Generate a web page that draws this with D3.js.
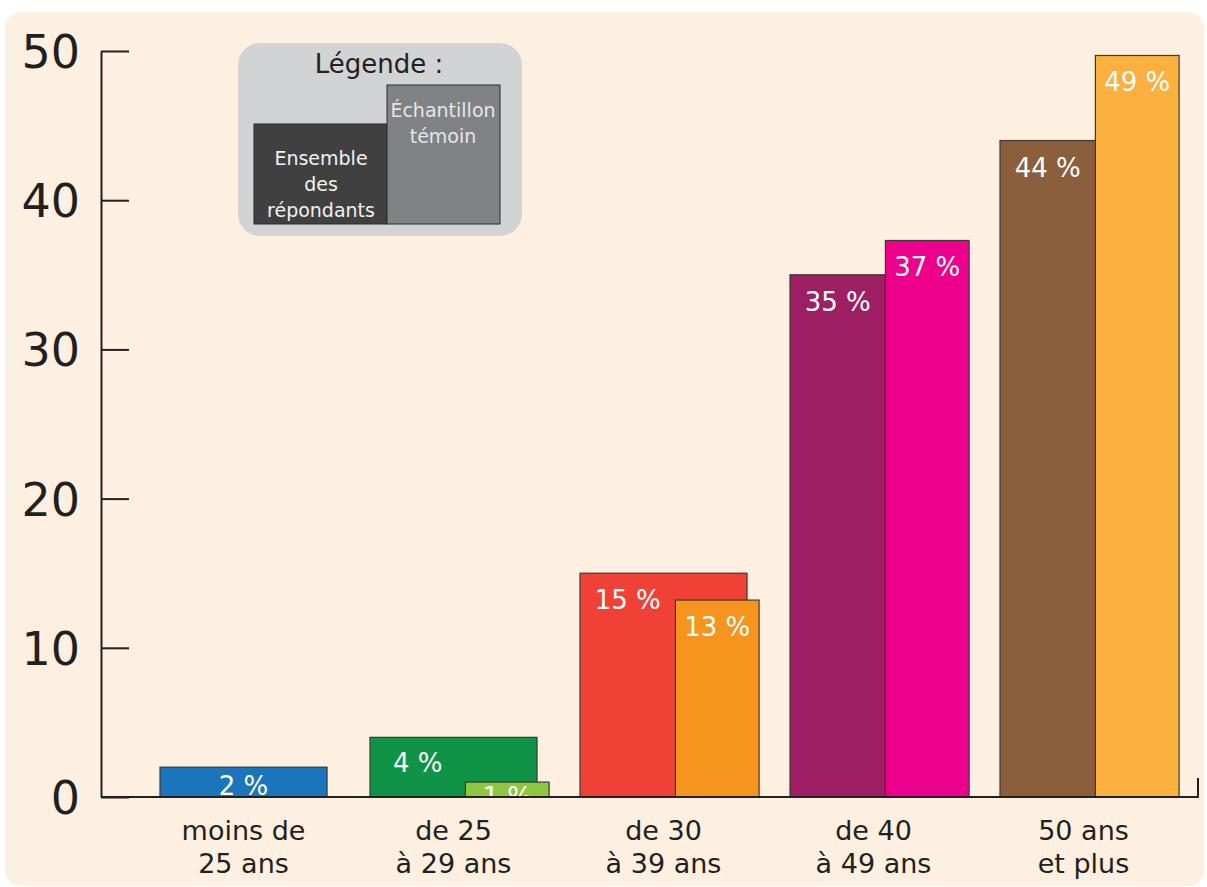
<!DOCTYPE html>
<html>
<head>
<meta charset="utf-8">
<script src="https://cdn.jsdelivr.net/npm/d3@7"></script>
<style>
  body { margin: 0; background: #fff; }
  text { font-family: "DejaVu Sans", sans-serif; }
</style>
</head>
<body>
<script>
// data
var categories = ["moins de 25 ans", "de 25 à 29 ans", "de 30 à 39 ans", "de 40 à 49 ans", "50 ans et plus"];
var categoryLines = [["moins de", "25 ans"], ["de 25", "à 29 ans"], ["de 30", "à 39 ans"], ["de 40", "à 49 ans"], ["50 ans", "et plus"]];
var ensemble = [2, 4, 15, 35, 44];
var temoin = [null, 1, 13.2, 37.3, 49.7];
var ensembleColors = ["#1b75bc", "#0e9347", "#ef4136", "#9e1f63", "#8b5e3c"];
var temoinColors = [null, "#8dc63f", "#f7941d", "#ec008c", "#fbb040"];
var yTicks = [0, 10, 20, 30, 40, 50];

var W = 1207, H = 887;

var svg = d3.select("body").append("svg")
  .attr("width", W)
  .attr("height", H);

// cream panel
svg.append("rect")
  .attr("x", 5).attr("y", 12)
  .attr("width", 1199).attr("height", 874)
  .attr("rx", 16)
  .attr("fill", "#fdf0e1");

var y = d3.scaleLinear().domain([0, 50]).range([797, 51]);
var x = d3.scaleBand().domain(categories).range([160, 1180]).paddingInner(30 / 210);

var bw = x.bandwidth();
var pw = bw * 0.928;   // width of the "ensemble" bar
var off = bw * 0.53;   // where the "témoin" bar starts inside the band
var tw = bw * 0.465;

// clip so labels don't go below the baseline
svg.append("clipPath").attr("id", "plot")
  .append("rect").attr("x", 0).attr("y", 0).attr("width", W).attr("height", y(0) - 1);

var groups = svg.append("g").selectAll("g")
  .data(categories)
  .enter().append("g")
  .attr("transform", function (d) { return "translate(" + x(d) + ",0)"; });

groups.append("rect")
  .attr("x", 0)
  .attr("y", function (d, i) { return y(ensemble[i]); })
  .attr("width", pw)
  .attr("height", function (d, i) { return y(0) - y(ensemble[i]); })
  .attr("fill", function (d, i) { return ensembleColors[i]; })
  .attr("stroke", "#3d3935")
  .attr("stroke-width", 1.2);

groups.filter(function (d, i) { return temoin[i] != null; })
  .append("rect")
  .attr("x", off)
  .attr("y", function (d) { return y(temoin[categories.indexOf(d)]); })
  .attr("width", tw)
  .attr("height", function (d) { return y(0) - y(temoin[categories.indexOf(d)]); })
  .attr("fill", function (d) { return temoinColors[categories.indexOf(d)]; })
  .attr("stroke", "#3d3935")
  .attr("stroke-width", 1.2);

function labelY(v) {
  var top = y(v), h = y(0) - top;
  return top + Math.min(36, 20 + h * 0.25);
}

var labels = svg.append("g").attr("clip-path", "url(#plot)")
  .attr("fill", "#fff")
  .attr("font-size", 26)
  .attr("text-anchor", "middle");

categories.forEach(function (c, i) {
  var cx = temoin[i] != null ? x(c) + off / 2 : x(c) + pw / 2;
  labels.append("text")
    .attr("x", cx)
    .attr("y", labelY(ensemble[i]))
    .text(Math.floor(ensemble[i]) + " %");
  if (temoin[i] != null) {
    labels.append("text")
      .attr("x", x(c) + off + tw / 2)
      .attr("y", labelY(temoin[i]))
      .text(Math.floor(temoin[i]) + " %");
  }
});

// baseline with small end tick
svg.append("path")
  .attr("d", "M101," + y(0) + "H1198V" + (y(0) - 19))
  .attr("fill", "none")
  .attr("stroke", "#231f20")
  .attr("stroke-width", 2);

// y axis: ticks point right, labels on the left
var yAxis = svg.append("g")
  .attr("transform", "translate(101,0)")
  .call(d3.axisLeft(y).tickValues(yTicks).tickSizeInner(-28).tickSizeOuter(0).tickPadding(21));

yAxis.select(".domain").attr("stroke", "#231f20").attr("stroke-width", 2);
yAxis.selectAll(".tick line").attr("stroke", "#231f20").attr("stroke-width", 2);
yAxis.selectAll(".tick text")
  .attr("font-family", "'Open Sans', sans-serif")
  .attr("font-size", 46)
  .attr("fill", "#231f20")
  .attr("dy", "0.36em");

// category labels
var cat = svg.append("g")
  .attr("font-size", 27)
  .attr("fill", "#231f20")
  .attr("text-anchor", "middle");

categories.forEach(function (c, i) {
  cat.append("text")
    .attr("x", x(c) + pw / 2)
    .attr("y", 840)
    .selectAll("tspan")
    .data(categoryLines[i])
    .enter().append("tspan")
    .attr("x", x(c) + pw / 2)
    .attr("dy", function (d, j) { return j ? 33 : 0; })
    .text(function (d) { return d; });
});

// legend
var leg = svg.append("g");
leg.append("rect")
  .attr("x", 238).attr("y", 43)
  .attr("width", 284).attr("height", 193)
  .attr("rx", 22)
  .attr("fill", "#d1d3d4");

leg.append("text")
  .attr("x", 379).attr("y", 73)
  .attr("text-anchor", "middle")
  .attr("font-size", 26)
  .attr("fill", "#231f20")
  .text("Légende :");

leg.append("rect")
  .attr("x", 254).attr("y", 124)
  .attr("width", 133).attr("height", 100)
  .attr("fill", "#404041")
  .attr("stroke", "#2b2b2b");

leg.append("rect")
  .attr("x", 387).attr("y", 85)
  .attr("width", 113).attr("height", 139)
  .attr("fill", "#808285")
  .attr("stroke", "#2b2b2b");

leg.append("text")
  .attr("text-anchor", "middle")
  .attr("font-size", 19)
  .attr("fill", "#f1f1f2")
  .selectAll("tspan")
  .data(["Ensemble", "des", "répondants"])
  .enter().append("tspan")
  .attr("x", 321)
  .attr("y", function (d, j) { return 165 + j * 26; })
  .text(function (d) { return d; });

leg.append("text")
  .attr("text-anchor", "middle")
  .attr("font-size", 19)
  .attr("fill", "#e6e7e8")
  .selectAll("tspan")
  .data(["Échantillon", "témoin"])
  .enter().append("tspan")
  .attr("x", 443)
  .attr("y", function (d, j) { return 117 + j * 26; })
  .text(function (d) { return d; });
</script>
</body>
</html>
